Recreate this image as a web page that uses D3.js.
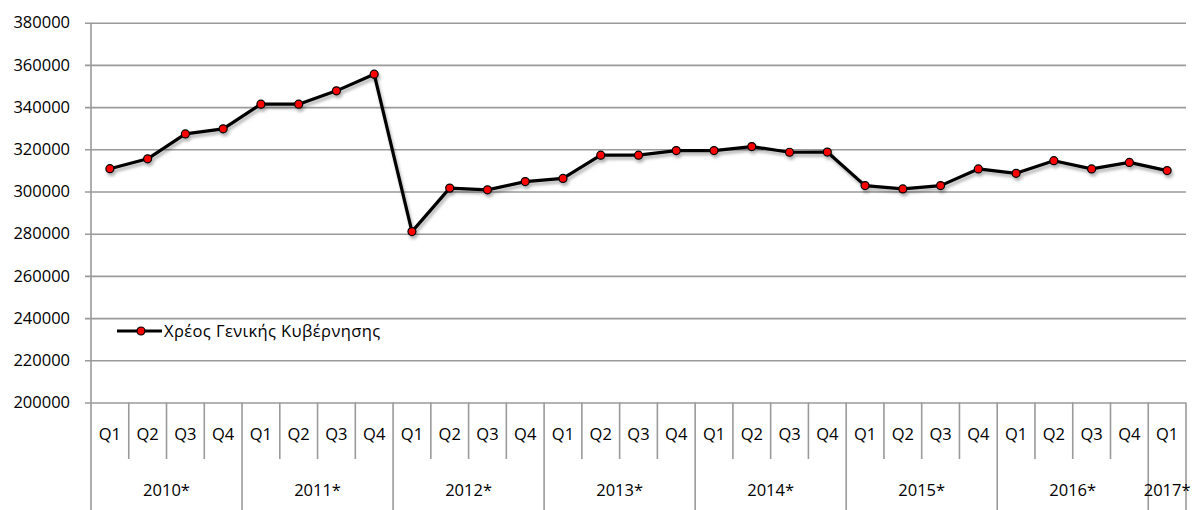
<!DOCTYPE html>
<html>
<head>
<meta charset="utf-8">
<script src="https://cdn.jsdelivr.net/npm/d3@7"></script>
<style>
  body { margin: 0; background: #fff; }
  svg text { font-family: "Open Sans", "Noto Sans", sans-serif; fill: #000; }
</style>
</head>
<body>
<div id="chart"></div>
<script>
// Χρέος Γενικής Κυβέρνησης, τριμηνιαία στοιχεία
const years = ["2010*", "2011*", "2012*", "2013*", "2014*", "2015*", "2016*", "2017*"];
const quarters = ["Q1", "Q2", "Q3", "Q4"];
const quarterLabels = [
  "Q1","Q2","Q3","Q4", "Q1","Q2","Q3","Q4", "Q1","Q2","Q3","Q4", "Q1","Q2","Q3","Q4",
  "Q1","Q2","Q3","Q4", "Q1","Q2","Q3","Q4", "Q1","Q2","Q3","Q4", "Q1"
];
const debtValues = [
  310800, 315500, 327300, 329700,
  341400, 341400, 347700, 355600,
  281000, 301600, 300800, 304700,
  306200, 317200, 317200, 319400,
  319400, 321300, 318600, 318700,
  302800, 301200, 302800, 310700,
  308600, 314600, 310700, 313800,
  309900
];
const yTicks = [200000, 220000, 240000, 260000, 280000, 300000, 320000, 340000, 360000, 380000];
const seriesName = "Χρέος Γενικής Κυβέρνησης";

const width = 1192, height = 510;
const plotLeft = 91, plotRight = 1186, plotTop = 22.7, plotBottom = 402.5;

const svg = d3.select("#chart").append("svg")
  .attr("width", width)
  .attr("height", height);

const defs = svg.append("defs");
const shadow = defs.append("filter").attr("id", "shadow")
  .attr("x", "-10%").attr("y", "-10%").attr("width", "130%").attr("height", "140%");
shadow.append("feDropShadow")
  .attr("dx", 1.5).attr("dy", 3).attr("stdDeviation", 1.8)
  .attr("flood-color", "#000").attr("flood-opacity", 0.3);

const x = d3.scaleBand()
  .domain(d3.range(debtValues.length))
  .range([plotLeft, plotRight])
  .padding(0);

const y = d3.scaleLinear()
  .domain([200000, 380000])
  .range([plotBottom, plotTop]);

// gridlines + y labels
const yAxis = d3.axisLeft(y)
  .tickValues(yTicks)
  .tickSize(plotRight - plotLeft + 6)
  .tickPadding(15)
  .tickFormat(d3.format("d"));

const gy = svg.append("g")
  .attr("transform", `translate(${plotRight},0)`)
  .call(yAxis);
gy.select(".domain").remove();
gy.selectAll(".tick line").attr("stroke", "#9a9a9a").attr("stroke-width", 1.6);
gy.selectAll(".tick text").style("font-size", "16.5px");

// vertical axis line
svg.append("line")
  .attr("x1", plotLeft).attr("x2", plotLeft)
  .attr("y1", plotTop).attr("y2", plotBottom)
  .attr("stroke", "#9a9a9a").attr("stroke-width", 1.6);

// category axis: quarter dividers and year dividers
const boundaries = d3.range(debtValues.length + 1);
svg.append("g").selectAll("line")
  .data(boundaries)
  .join("line")
  .attr("x1", i => i < debtValues.length ? x(i) : plotRight)
  .attr("x2", i => i < debtValues.length ? x(i) : plotRight)
  .attr("y1", plotBottom)
  .attr("y2", i => (i % 4 === 0 || i === debtValues.length) ? height : 459)
  .attr("stroke", "#9a9a9a")
  .attr("stroke-width", 1.6);

svg.append("g").selectAll("text")
  .data(quarterLabels)
  .join("text")
  .attr("x", (d, i) => x(i) + x.bandwidth() / 2)
  .attr("y", 434)
  .attr("dy", "0.35em")
  .attr("text-anchor", "middle")
  .style("font-size", "16.5px")
  .text(d => d);

svg.append("g").selectAll("text")
  .data(years)
  .join("text")
  .attr("x", (d, i) => {
    const first = i * quarters.length;
    const last = Math.min(first + quarters.length, debtValues.length) - 1;
    return (x(first) + x(last) + x.bandwidth()) / 2;
  })
  .attr("y", 490)
  .attr("dy", "0.35em")
  .attr("text-anchor", "middle")
  .style("font-size", "16.5px")
  .text(d => d);

// series
const line = d3.line()
  .x((d, i) => x(i) + x.bandwidth() / 2)
  .y(d => y(d));

const series = svg.append("g").attr("filter", "url(#shadow)");

series.append("path")
  .datum(debtValues)
  .attr("d", line)
  .attr("fill", "none")
  .attr("stroke", "#000")
  .attr("stroke-width", 3.2)
  .attr("stroke-linejoin", "round");

series.selectAll("circle")
  .data(debtValues)
  .join("circle")
  .attr("cx", (d, i) => x(i) + x.bandwidth() / 2)
  .attr("cy", d => y(d))
  .attr("r", 4)
  .attr("fill", "#ff0000")
  .attr("stroke", "#000")
  .attr("stroke-width", 1.2);

// legend
const legend = svg.append("g").attr("transform", "translate(117,331)");
legend.append("line")
  .attr("x1", 0).attr("x2", 45)
  .attr("stroke", "#000").attr("stroke-width", 3.2);
legend.append("circle")
  .attr("cx", 24).attr("r", 4)
  .attr("fill", "#ff0000").attr("stroke", "#000").attr("stroke-width", 1.2);
legend.append("text")
  .attr("x", 47)
  .attr("dy", "0.35em")
  .style("font-size", "16.5px")
  .style("letter-spacing", "0.4px")
  .text(seriesName);
</script>
</body>
</html>
